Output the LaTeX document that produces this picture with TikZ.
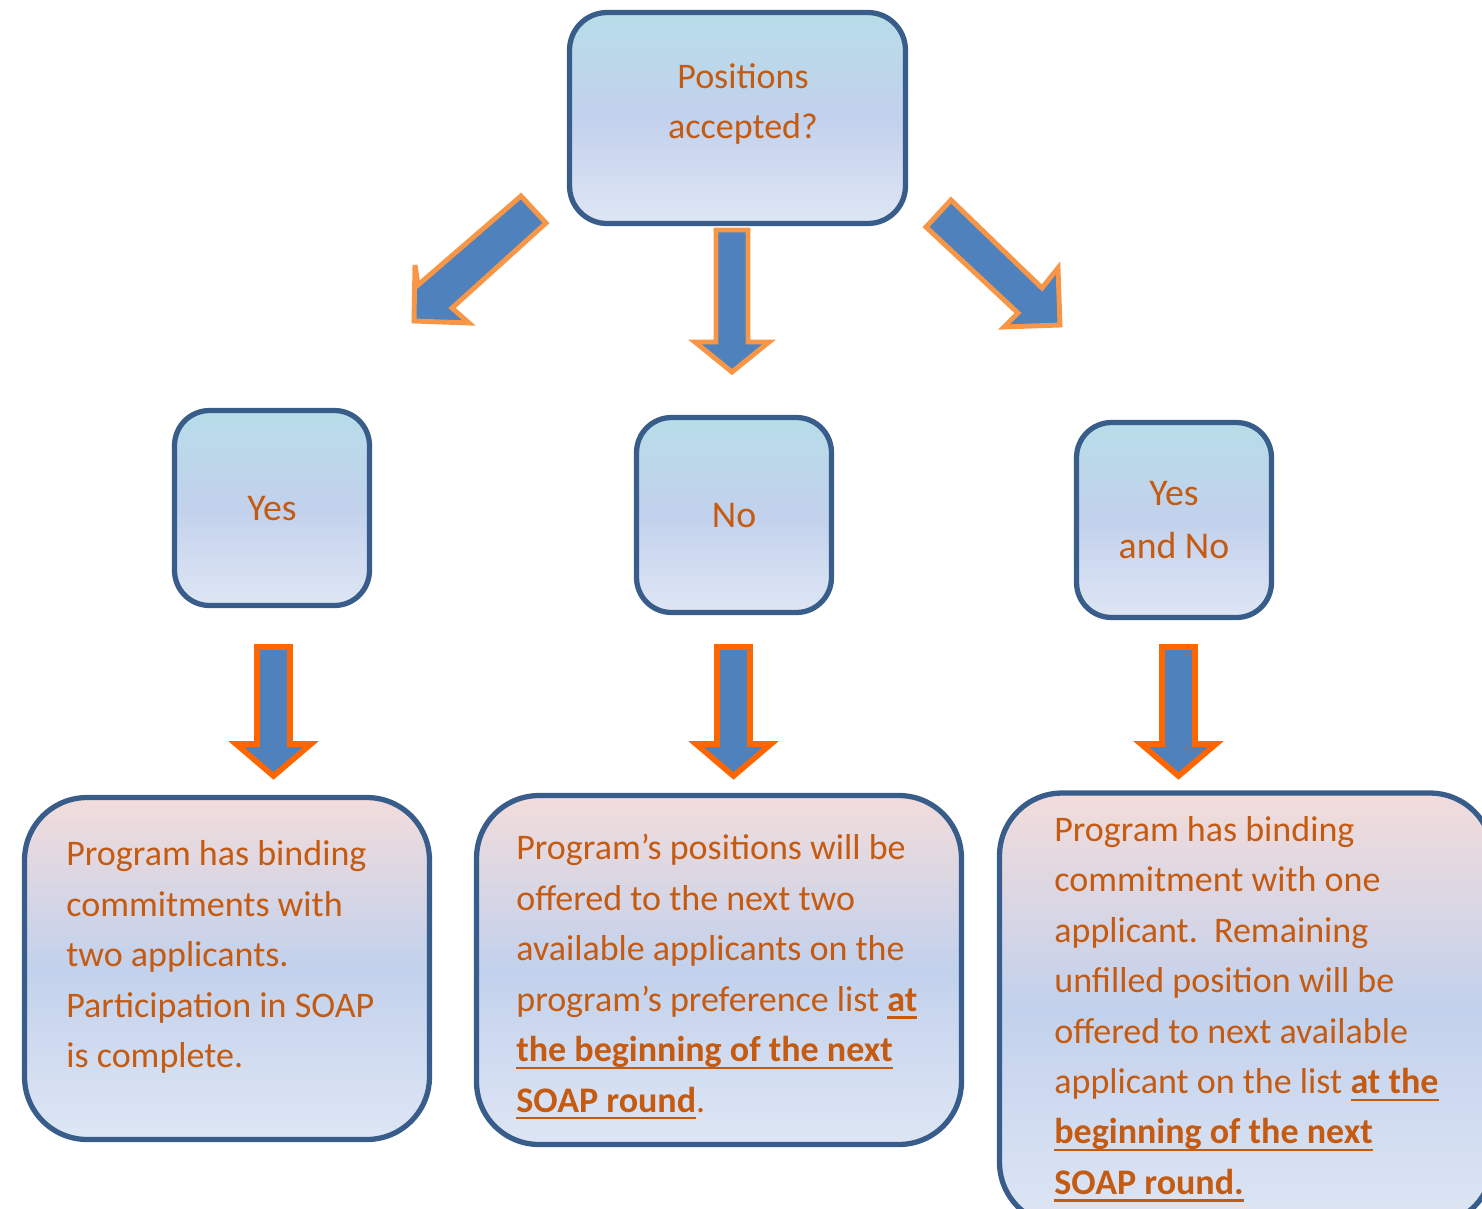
\documentclass[tikz,border=0pt]{standalone}
\usepackage{fontspec}
\setmainfont{Carlito}
\definecolor{boxline}{RGB}{56,93,138}
\definecolor{qtop}{RGB}{183,221,232}
\definecolor{qmid}{RGB}{194,209,236}
\definecolor{qbot}{RGB}{222,230,244}
\definecolor{otop}{RGB}{242,220,219}
\definecolor{arrowfill}{RGB}{79,129,189}
\definecolor{arrowedge}{RGB}{247,150,70}
\definecolor{arrowedgedark}{RGB}{255,102,0}
\definecolor{txtorange}{RGB}{197,90,17}
\newsavebox{\soapbox}
\newcommand{\soap}[1]{\sbox{\soapbox}{\textbf{#1}}\rlap{\rule[-4.2pt]{\wd\soapbox}{1.3pt}}\usebox{\soapbox}}
\tikzset{
	question/.style = {rectangle, rounded corners = 0.75cm, minimum width = 6.72cm, minimum height = 4.22cm, draw = boxline, line width = 3pt, top color = qtop, bottom color = qbot, middle color = qmid},
	answer/.style = {rectangle, rounded corners = 0.7cm, minimum width = 3.9cm, minimum height = 3.9cm, draw = boxline, line width = 3pt, top color = qtop, bottom color = qbot, middle color = qmid, text = txtorange, align = center, font = \fontsize{21.5}{30.7}\selectfont},
	result/.style = {rectangle, rounded corners = 1.25cm, draw = boxline, line width = 3pt, top color = otop, bottom color = qbot, middle color = qmid},
	txt/.style = {text = txtorange, align = left, inner sep = 0pt, font = \fontsize{20.5}{28.7}\selectfont},
	toparrow/.style = {fill = arrowfill, draw = arrowedge, line width = 2.8pt, line join = miter},
	botarrow/.style = {fill = arrowfill, draw = arrowedgedark, line width = 3.2pt, line join = miter}
}
\begin{document}
\begin{tikzpicture}[x = 0.02cm, y = -0.02cm]

	\useasboundingbox (0,0) rectangle (1482,1208);
	\clip (0,0) rectangle (1482,1208);

	%% boxes
	\node (quest) [question] at (737.5,118) {};
	\node (yes) [answer, text depth = 0pt] at (272,508) {Yes};
	\node (no) [answer] at (734,515) {No};
	\node (yesno) [answer] at (1174,520) {Yes\\and No};

	\node (outl) [result, minimum width = 8.1cm, minimum height = 6.84cm] at (227,968.5) {};
	\node (outm) [result, minimum width = 9.7cm, minimum height = 6.98cm] at (719,970) {};
	\node (outr) [result, minimum width = 9.86cm, minimum height = 8.64cm] at (1246,1009) {};

	%% text
	\node (questtxt) [txt, align = center] at (743,104) {Positions\\accepted?};
	\node (outltxt) [txt, anchor = west] at (66,957) {Program has binding\\commitments with\\two applicants.\\Participation in SOAP\\is complete.};
	\node (outmtxt) [txt, anchor = west] at (516,977) {Program’s positions will be\\offered to the next two\\available applicants on the\\program’s preference list \soap{at}\\\soap{the beginning of the next}\\\soap{SOAP round}.};
	\node (outrtxt) [txt, anchor = west] at (1054,1009) {Program has binding\\commitment with one\\applicant.\ \ Remaining\\unfilled position will be\\offered to next available\\applicant on the list \soap{at the}\\\soap{beginning of the next}\\\soap{SOAP round.}};

	%% arrows
	\filldraw [toparrow] (521,196) -- (546,223) -- (452,308) -- (469,323) -- (414,321) -- (415,265) -- (418,285) -- cycle;
	\filldraw [toparrow] (716,230) -- (748,230) -- (748,342) -- (769,342) -- (732,372) -- (695,342) -- (716,342) -- cycle;
	\filldraw [toparrow] (951,200) -- (1042,288) -- (1058,268) -- (1060,325) -- (1004,327) -- (1018,313) -- (926,227) -- cycle;

	\filldraw [botarrow] (257,647) -- (290,647) -- (290,744) -- (311,744) -- (273.5,776) -- (236,744) -- (257,744) -- cycle;
	\filldraw [botarrow] (717,647) -- (750,647) -- (750,744) -- (771,744) -- (733.5,776) -- (696,744) -- (717,744) -- cycle;
	\filldraw [botarrow] (1162,647) -- (1195,647) -- (1195,744) -- (1216,744) -- (1178.5,776) -- (1141,744) -- (1162,744) -- cycle;

\end{tikzpicture}
\end{document}
